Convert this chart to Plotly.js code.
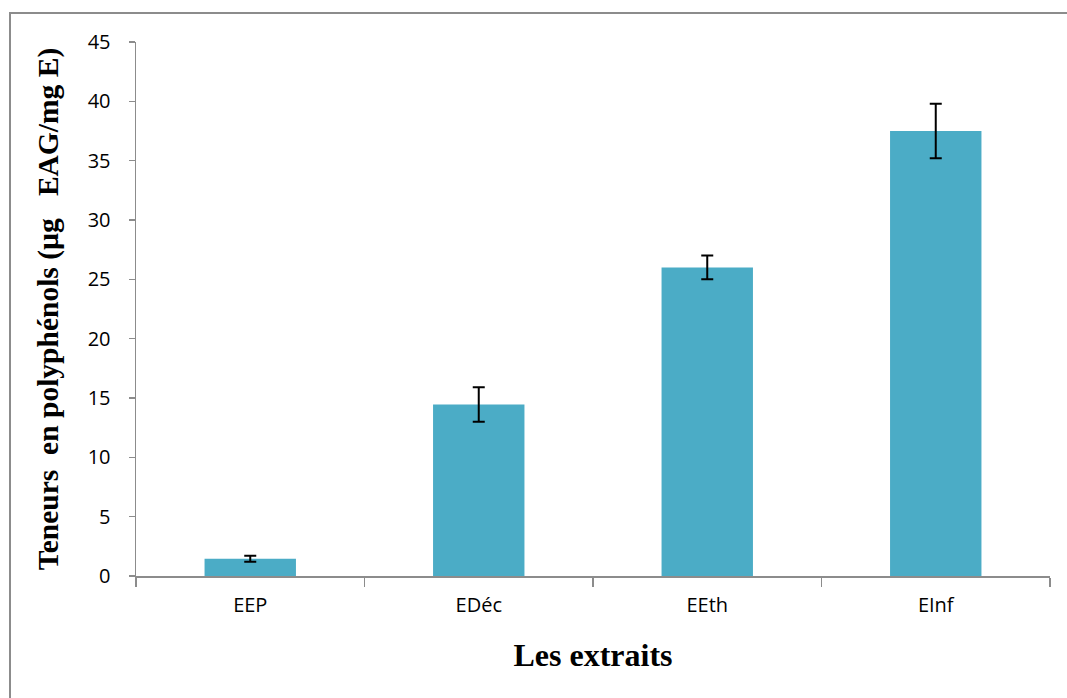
<!DOCTYPE html>
<html>
<head>
<meta charset="utf-8">
<script src="https://cdn.plot.ly/plotly-3.0.1.min.js"></script>
<style>
  html, body { margin: 0; padding: 0; background: #fff; }
  #wrap { position: relative; width: 1067px; height: 698px; overflow: hidden; }
  #chart { position: absolute; left: 0; top: 0; width: 1067px; height: 698px; }
  #frame { position: absolute; left: 9px; top: 12px; width: 1100px; height: 720px;
           border-left: 2px solid #8c8c8c; border-top: 2px solid #8c8c8c; pointer-events: none; }
</style>
</head>
<body>
<div id="wrap">
  <div id="chart"></div>
  <div id="frame"></div>
</div>
<script>
const categories = ["EEP", "EDéc", "EEth", "EInf"];
const values = [1.45, 14.45, 26.0, 37.5];
const errors = [0.25, 1.45, 1.0, 2.3];

const trace = {
  type: "bar",
  x: categories,
  y: values,
  width: 0.4,
  marker: { color: "#4BACC6" },
  error_y: { type: "data", array: errors, visible: true, color: "#000000", thickness: 2, width: 6 },
  hoverinfo: "skip"
};

const layout = {
  width: 1067,
  height: 698,
  margin: { l: 136, r: 17, t: 42, b: 122 },
  paper_bgcolor: "rgba(0,0,0,0)",
  plot_bgcolor: "rgba(0,0,0,0)",
  showlegend: false,
  bargap: 0.6,
  xaxis: {
    type: "category",
    showline: true,
    linecolor: "#8c8c8c",
    linewidth: 2,
    ticks: "outside",
    tickson: "boundaries",
    ticklen: 9,
    tickcolor: "#8c8c8c",
    tickwidth: 1.5,
    showgrid: false,
    ticklabelstandoff: 10,
    tickfont: { family: "Open Sans, Noto Sans, sans-serif", size: 20, color: "#000" },
    title: { text: "Les extraits", font: { family: "Liberation Serif, serif", size: 32, color: "#000", weight: "bold" }, standoff: 27 },
    automargin: false
  },
  yaxis: {
    range: [0, 45],
    dtick: 5,
    tick0: 0,
    showline: true,
    linecolor: "#8c8c8c",
    linewidth: 1.5,
    ticks: "outside",
    ticklen: 6,
    tickcolor: "#8c8c8c",
    tickwidth: 1.5,
    showgrid: false,
    zeroline: false,
    ticklabelstandoff: 14,
    tickfont: { family: "Open Sans, Noto Sans, sans-serif", size: 20, color: "#000" },
    title: { text: "Teneurs\u00a0 en polyphénols (µg \u00a0\u00a0EAG/mg E)", font: { family: "Liberation Serif, serif", size: 29.5, color: "#000", weight: "bold" }, standoff: 20 },
    automargin: false
  }
};

Plotly.newPlot("chart", [trace], layout, { displayModeBar: false, staticPlot: true });
</script>
</body>
</html>
